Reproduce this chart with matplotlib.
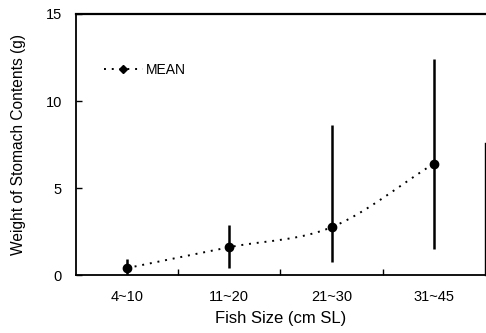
import numpy as np
import matplotlib
matplotlib.use("Agg")
import matplotlib.pyplot as plt
from matplotlib.lines import Line2D

plt.rcParams["font.family"] = ["Liberation Sans", "DejaVu Sans"]

categories = ["4~10", "11~20", "21~30", "31~45"]
mean = [0.4, 1.6, 2.75, 6.4]
upper = [0.9, 2.9, 8.6, 12.4]
lower = [0.0, 0.4, 0.75, 1.5]


def smooth(x, y, n=30):
    # Catmull-Rom style smoothing like the spreadsheet "smoothed line"
    x = np.asarray(x, float)
    y = np.asarray(y, float)
    px = np.concatenate([[2 * x[0] - x[1]], x, [2 * x[-1] - x[-2]]])
    py = np.concatenate([[2 * y[0] - y[1]], y, [2 * y[-1] - y[-2]]])
    xs, ys = [], []
    t = np.linspace(0, 1, n)
    for i in range(1, len(px) - 2):
        for p, out in ((px, xs), (py, ys)):
            p0, p1, p2, p3 = p[i - 1], p[i], p[i + 1], p[i + 2]
            out.extend(0.5 * (2 * p1 + (-p0 + p2) * t
                              + (2 * p0 - 5 * p1 + 4 * p2 - p3) * t ** 2
                              + (-p0 + 3 * p1 - 3 * p2 + p3) * t ** 3))
    return xs, ys


x = np.arange(len(categories))
m = np.array(mean)
err = [m - np.array(lower), np.array(upper) - m]

fig = plt.figure(figsize=(4.86, 3.33), dpi=100)
ax = fig.add_axes([0.156, 0.174, 0.842, 0.784])

sx, sy = smooth(x, m)
ax.plot(sx, sy, color="black", linestyle=(0, (1, 3)), linewidth=1.4)
ax.errorbar(x, m, yerr=err, fmt="o", color="black", markersize=6,
            elinewidth=1.8, capsize=0)

handle = Line2D([], [], color="black", linestyle=(0, (1, 3)), linewidth=1.4,
                marker="D", markersize=4.5)
ax.legend([handle], ["MEAN"], loc="upper left", bbox_to_anchor=(0.055, 0.835),
          frameon=False, fontsize=10, handlelength=2.8, handletextpad=0.2,
          borderaxespad=0)

ax.set_xlim(-0.5, 3.5)
ax.set_ylim(0, 15)
ax.set_yticks([0, 5, 10, 15])
ax.set_xticks(x)
ax.set_xticklabels(categories)
ax.set_xticks([0.5, 1.5, 2.5], minor=True)
ax.tick_params(axis="x", which="major", length=0, pad=11, labelsize=10.5)
ax.tick_params(axis="x", which="minor", direction="in", length=4, width=1)
ax.tick_params(axis="y", direction="in", length=4, width=1, pad=10, labelsize=10.5)

for s in ax.spines.values():
    s.set_linewidth(1.3)
ax.spines["top"].set_linewidth(1.6)
ax.spines["right"].set_linewidth(1.0)
ax.spines["right"].set_bounds(0, 7.6)

ax.set_xlabel("Fish Size (cm SL)", fontsize=12, labelpad=5)
ax.set_ylabel("Weight of Stomach Contents (g)", fontsize=11.2, labelpad=14)

fig.savefig("out.png", dpi=100)
